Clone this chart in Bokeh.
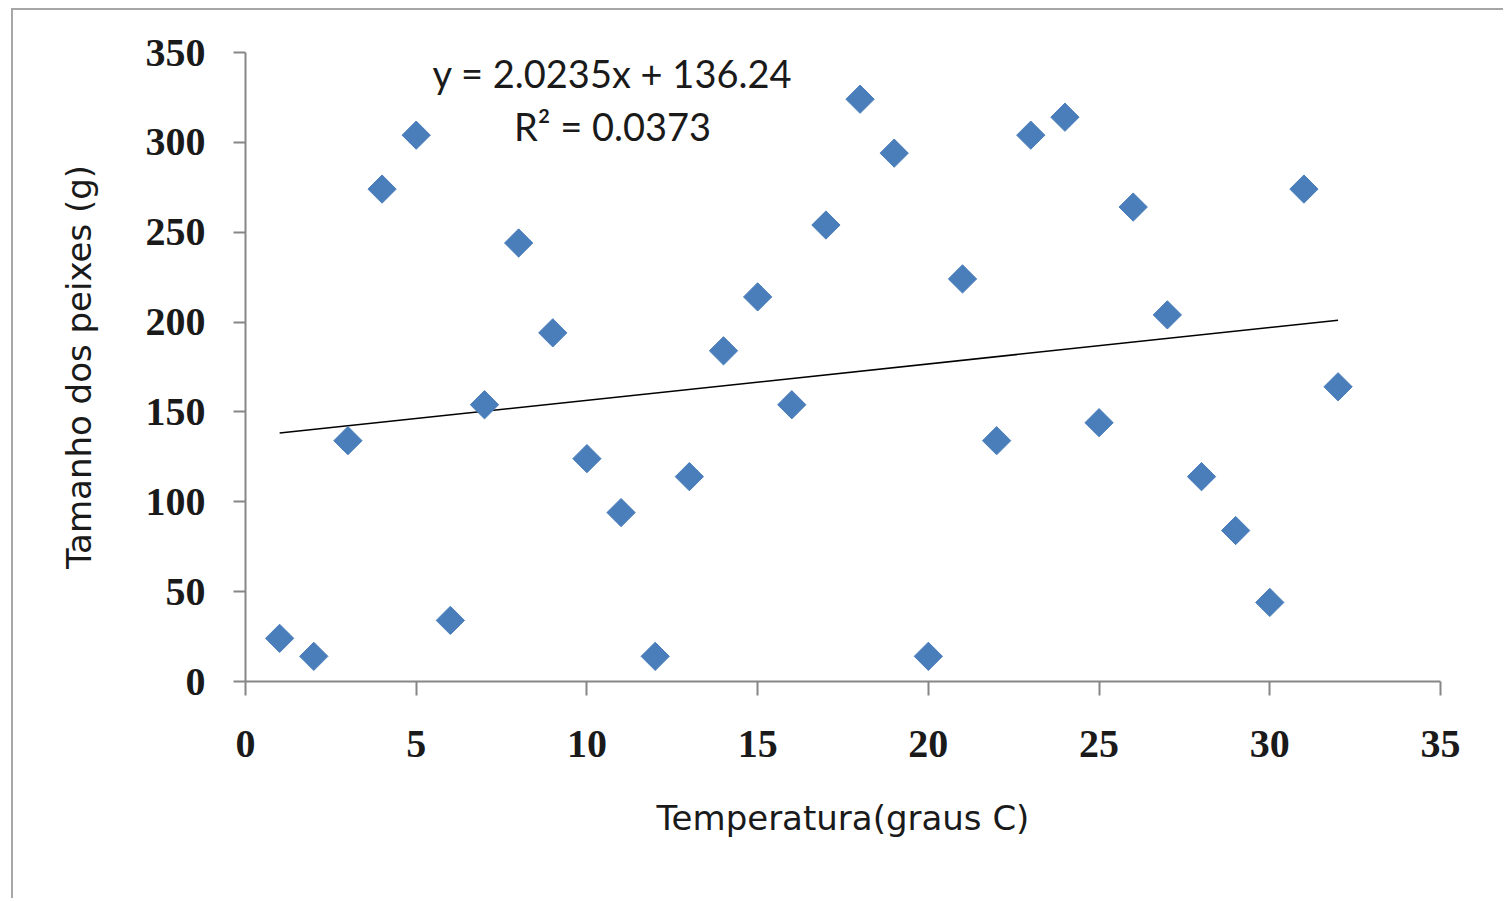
from bokeh.plotting import figure
from bokeh.models import Label, FixedTicker
from bokeh.embed import file_html
from bokeh.resources import INLINE

temperatura = list(range(1, 33))
tamanho = [24, 14, 134, 274, 304, 34, 154, 244, 194, 124, 94, 14, 114, 184, 214, 154,
           254, 324, 294, 14, 224, 134, 304, 314, 144, 264, 204, 114, 84, 44, 274, 164]
slope = 2.0235
intercept = 136.24
x_ticks = [0, 5, 10, 15, 20, 25, 30, 35]
y_ticks = [0, 50, 100, 150, 200, 250, 300, 350]
x_title = "Temperatura(graus C)"
y_title = "Tamanho dos peixes (g)"
eq_text = "y = 2.0235x + 136.24"
r2_text = "R\u00b2 = 0.0373"

p = figure(output_backend="svg", toolbar_location=None,
           frame_width=1195, frame_height=629,
           min_border_left=232, min_border_right=63, min_border_top=42, min_border_bottom=217,
           x_range=(0, 35), y_range=(0, 350),
           margin=(8, 0, 0, 11),
           styles={"border-top": "2px solid #a6a6a6", "border-left": "2px solid #a6a6a6"})
p.outline_line_color = None
p.grid.visible = False
p.background_fill_color = "white"
p.border_fill_color = "white"

for ax in (p.xaxis[0], p.yaxis[0]):
    ax.axis_line_color = "#868686"
    ax.axis_line_width = 2
    ax.major_tick_line_color = "#868686"
    ax.major_tick_line_width = 2
    ax.major_tick_in = 0
    ax.minor_tick_line_color = None
    ax.major_label_text_font = "Liberation Serif"
    ax.major_label_text_font_style = "bold"
    ax.major_label_text_font_size = "40px"
    ax.major_label_text_color = "#1a1a1a"
    ax.axis_label_text_font = "DejaVu Sans"
    ax.axis_label_text_font_style = "normal"
    ax.axis_label_text_font_size = "34px"
    ax.axis_label_text_color = "#1a1a1a"

p.xaxis.ticker = FixedTicker(ticks=x_ticks)
p.yaxis.ticker = FixedTicker(ticks=y_ticks)
p.xaxis.major_tick_out = 14
p.yaxis.major_tick_out = 12
p.xaxis.major_label_standoff = 35
p.yaxis.major_label_standoff = 28
p.xaxis.axis_label = x_title
p.yaxis.axis_label = y_title
p.xaxis.axis_label_standoff = 38
p.yaxis.axis_label_standoff = 44

x0, x1 = min(temperatura), max(temperatura)
p.line([x0, x1], [intercept + slope * x0, intercept + slope * x1], line_color="black", line_width=1.5)

p.scatter(temperatura, tamanho, marker="square", size=20, angle=0.785398,
          fill_color="#4a7ebb", line_color="#4a7ebb", line_width=1)

p.add_layout(Label(x=10.75, y=338.5, text=eq_text, text_align="center", text_baseline="alphabetic",
                   text_font="Lato", text_font_size="38px", text_color="#1a1a1a"))
p.add_layout(Label(x=10.75, y=309, text=r2_text, text_align="center", text_baseline="alphabetic",
                   text_font="Lato", text_font_size="38px", text_color="#1a1a1a"))

open("out.html", "w").write(file_html(p, INLINE))
